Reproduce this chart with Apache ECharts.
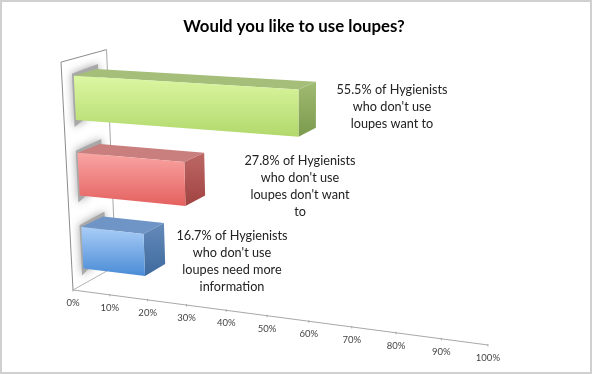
<!DOCTYPE html>
<html>
<head>
<meta charset="utf-8">
<style>
  html, body { margin: 0; padding: 0; background: #fff; }
  #chart { width: 592px; height: 374px; }
</style>
<script src="https://cdn.jsdelivr.net/npm/echarts@6/dist/echarts.min.js"></script>
</head>
<body>
<div id="chart"></div>
<script>
// chart data, top bar first
const categories = ['want', "don't want", 'need more information'];
const percentValues = [55.5, 27.8, 16.7];
const barLabels = [
  "55.5% of Hygienists\nwho don't use\nloupes want to",
  "27.8% of Hygienists\nwho don't use\nloupes don't want\nto",
  "16.7% of Hygienists\nwho don't use\nloupes need more\ninformation"
];
const tickValues = [0, 10, 20, 30, 40, 50, 60, 70, 80, 90, 100];
const tickLabels = ['0%', '10%', '20%', '30%', '40%', '50%', '60%', '70%', '80%', '90%', '100%'];

// bar colours: front top/bottom, top face, side top/bottom
const barColors = [
  { front: ['#dcf7a2', '#b2d86c'], top: '#a5bf7b', side: ['#a0bb72', '#7b9a4c'] },
  { front: ['#f9a5a3', '#e4615f'], top: '#c97f7e', side: ['#bd6866', '#a04341'] },
  { front: ['#a9cdf7', '#4a8bd6'], top: '#6f95c6', side: ['#648ab9', '#3f6a9e'] }
];

// the flat grid is only used as the scale, its pixels get projected to the 3d view below
const GRID = { left: 0, top: 0, width: 100, height: 100 };
const BAR_DEPTH = [0.25, 0.75];
// label centres, the wrapped boxes were placed by hand in the original
const LABEL_X = [392, 300, 232];
const LABEL_Y = [107, 186, 261];

// perspective projection, u = value 0..1, h = wall height 0..1, d = depth 0..1
function project(u, h, d) {
  const w = 1 - 0.122 * u - 0.0502 * h + 0.056 * d;
  return [
    (73 + 355.4 * u - 15.06 * h + 49.2 * d) / w,
    (290 + 12.9 * u - 231 * h - 9.1 * d) / w
  ];
}

const toU = px => (px - GRID.left) / GRID.width;
const toH = py => 1 - (py - GRID.top) / GRID.height;

function face(points, fill, extra) {
  return {
    type: 'polygon',
    silent: true,
    shape: { points: points },
    style: Object.assign({ fill: fill, stroke: null }, extra || {})
  };
}

function vGrad(colors) {
  return new echarts.graphic.LinearGradient(0, 0, 0, 1, [
    { offset: 0, color: colors[0] },
    { offset: 1, color: colors[1] }
  ]);
}

function renderBar(params, api) {
  const i = params.dataIndex;
  const end = api.coord([api.value(0), i]);
  const band = api.size([0, 1])[1] * 0.57;
  const u = toU(end[0]);
  const h0 = toH(end[1] + band / 2);
  const h1 = toH(end[1] - band / 2);
  const d0 = BAR_DEPTH[0];
  const d1 = BAR_DEPTH[1];
  const c = barColors[i];

  return {
    type: 'group',
    children: [
      // blurry shadow on the wall
      face([
        project(-0.002, h0 - 0.03, d0 - 0.02),
        project(-0.002, h1 + 0.01, d0 - 0.02),
        project(0, h1 + 0.02, d1 + 0.04),
        project(0, h0 + 0.02, d1 + 0.04)
      ], '#a8a8a8', { shadowBlur: 9, shadowColor: '#a0a0a0' }),
      face([project(0, h1, d0), project(u, h1, d0), project(u, h1, d1), project(0, h1, d1)], c.top),
      face([project(u, h1, d0), project(u, h1, d1), project(u, h0, d1), project(u, h0, d0)], vGrad(c.side)),
      face([project(0, h1, d0), project(u, h1, d0), project(u, h0, d0), project(0, h0, d0)], vGrad(c.front)),
      {
        type: 'text',
        silent: true,
        style: {
          x: LABEL_X[i],
          y: LABEL_Y[i],
          text: barLabels[i],
          align: 'center',
          verticalAlign: 'middle',
          fontFamily: 'Lato',
          fontSize: 12.7,
          lineHeight: 17,
          fill: '#222222'
        }
      }
    ]
  };
}

function renderWall() {
  const line = (a, b, color) => ({
    type: 'line',
    silent: true,
    shape: { x1: a[0], y1: a[1], x2: b[0], y2: b[1] },
    style: { stroke: color, lineWidth: 1 }
  });
  return {
    type: 'group',
    children: [
      line(project(0, 0, 0), project(0, 1, 0), '#8c8c8c'),
      line(project(0, 1, 0), project(0, 1, 1), '#8c8c8c'),
      line(project(0, 1, 1), project(0, 0, 1), '#a8a8a8'),
      line(project(0, 0, 0), project(0, 0, 1), '#b4b4b4')
    ]
  };
}

function renderTick(params, api) {
  const u = toU(api.coord([api.value(0), 0])[0]);
  const p = project(u, 0, 0);
  const children = [{
    type: 'line',
    silent: true,
    shape: { x1: p[0], y1: p[1] - 1, x2: p[0], y2: p[1] + 1.5 },
    style: { stroke: '#a8a8a8', lineWidth: 1 }
  }, {
    type: 'text',
    silent: true,
    style: {
      x: p[0],
      y: p[1] + 13,
      text: tickLabels[params.dataIndex],
      align: 'center',
      verticalAlign: 'middle',
      fontFamily: 'Lato',
      fontSize: 9.5,
      fill: '#444444'
    }
  }];
  if (params.dataIndex === 0) {
    const last = project(1, 0, 0);
    children.unshift({
      type: 'line',
      silent: true,
      shape: { x1: p[0], y1: p[1], x2: last[0], y2: last[1] },
      style: { stroke: '#a8a8a8', lineWidth: 1 }
    });
  }
  return { type: 'group', children: children };
}

const chart = echarts.init(document.getElementById('chart'));

chart.setOption({
  backgroundColor: '#ffffff',
  animation: false,
  title: {
    text: 'Would you like to use loupes?',
    left: 289,
    textAlign: 'center',
    top: 13,
    textStyle: { fontFamily: 'Lato', fontWeight: 'bold', fontSize: 16.8, color: '#000000' }
  },
  grid: GRID,
  xAxis: { type: 'value', min: 0, max: 100, interval: 10, show: false },
  yAxis: { type: 'category', data: categories, inverse: true, show: false },
  graphic: [{
    type: 'rect',
    silent: true,
    shape: { x: 1, y: 1, width: 590, height: 372 },
    style: { fill: null, stroke: '#d0d0d0', lineWidth: 2 }
  }],
  series: [
    { type: 'custom', coordinateSystem: 'cartesian2d', renderItem: renderWall, data: [[0, 0]], clip: false, z: 1 },
    { type: 'custom', coordinateSystem: 'cartesian2d', renderItem: renderTick, data: tickValues.map(v => [v, 0]), clip: false, z: 2 },
    { type: 'custom', coordinateSystem: 'cartesian2d', renderItem: renderBar, data: percentValues.map((v, i) => [v, i]), clip: false, z: 3 }
  ]
});
</script>
</body>
</html>
